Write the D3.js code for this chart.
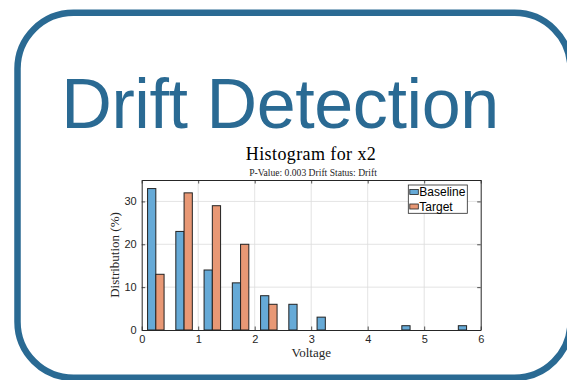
<!DOCTYPE html>
<html>
<head>
<meta charset="utf-8">
<script src="https://cdn.jsdelivr.net/npm/d3@7"></script>
<style>
  html, body { margin: 0; padding: 0; background: #ffffff; }
  svg { display: block; }
</style>
</head>
<body>
<svg id="chart" width="567" height="380"></svg>
<script>
// Histogram bins (centres, in volts) and the share of samples per bin (%)
const binCenters = [0.25, 0.75, 1.25, 1.75, 2.25, 2.75, 3.25, 3.75, 4.25, 4.75, 5.25, 5.75];
const baselineValues = [33, 23, 14, 11, 8, 6, 3, 0, 0, 1, 0, 1];
const targetValues   = [13, 32, 29, 20, 6, 0, 0, 0, 0, 0, 0, 0];
const seriesNames = ["Baseline", "Target"];
const xTicks = [0, 1, 2, 3, 4, 5, 6];
const yTicks = [0, 10, 20, 30];

const titleText = "Drift Detection";
const chartTitle = "Histogram for x2";
const subTitle = "P-Value: 0.003 Drift Status: Drift";
const xLabel = "Voltage";
const yLabel = "Distribution (%)";

const frameColor = "#2a6a93";
const colors = ["#66aad7", "#e89875"];
const serif = "'Liberation Serif', 'DejaVu Serif', serif";
const sans = "'Liberation Sans', Arial, sans-serif";

const svg = d3.select("#chart");

// Rounded card frame
svg.append("rect")
  .attr("x", 17.5).attr("y", 12.8)
  .attr("width", 553).attr("height", 365)
  .attr("rx", 56).attr("ry", 56)
  .attr("fill", "none")
  .attr("stroke", frameColor)
  .attr("stroke-width", 6.5);

// Heading
svg.append("text")
  .attr("x", 280).attr("y", 128)
  .attr("text-anchor", "middle")
  .attr("font-family", sans)
  .attr("font-size", 70)
  .attr("letter-spacing", -0.4)
  .attr("fill", frameColor)
  .text(titleText);

// Plot area
const plot = { left: 141.7, right: 480.7, top: 180, bottom: 330 };
const x = d3.scaleLinear().domain([0, 6]).range([plot.left, plot.right]);
const y = d3.scaleLinear().domain([0, 35]).range([plot.bottom, plot.top]);

const g = svg.append("g");

// Grid lines
g.append("g").selectAll("line.gx")
  .data(xTicks.slice(1, -1)).join("line")
  .attr("x1", d => x(d)).attr("x2", d => x(d))
  .attr("y1", plot.top).attr("y2", plot.bottom)
  .attr("stroke", "#dcdcdc").attr("stroke-width", 0.8);
g.append("g").selectAll("line.gy")
  .data(yTicks.slice(1)).join("line")
  .attr("x1", plot.left).attr("x2", plot.right)
  .attr("y1", d => y(d)).attr("y2", d => y(d))
  .attr("stroke", "#dcdcdc").attr("stroke-width", 0.8);

// Grouped bars
const barW = 0.146;
const series = [baselineValues, targetValues];
series.forEach((vals, si) => {
  const data = binCenters.map((c, i) => ({ c, v: vals[i] })).filter(d => d.v > 0);
  g.append("g").selectAll("rect")
    .data(data).join("rect")
    .attr("x", d => x(si === 0 ? d.c - barW : d.c))
    .attr("width", x(barW) - x(0))
    .attr("y", d => y(d.v))
    .attr("height", d => y(0) - y(d.v))
    .attr("fill", colors[si])
    .attr("stroke", "#222")
    .attr("stroke-width", 1);
});

// Axes (box with inward ticks)
const axisColor = "#262626";
const tickLen = 3.5;
const fmt = d3.format("d");
const bottomAxis = d3.axisBottom(x).tickValues(xTicks).tickFormat(fmt).tickSizeInner(-tickLen).tickSizeOuter(0).tickPadding(5);
const topAxis = d3.axisTop(x).tickValues(xTicks).tickSizeInner(-tickLen).tickSizeOuter(0).tickFormat("");
const leftAxis = d3.axisLeft(y).tickValues(yTicks).tickFormat(fmt).tickSizeInner(-tickLen).tickSizeOuter(0).tickPadding(5);
const rightAxis = d3.axisRight(y).tickValues(yTicks).tickSizeInner(-tickLen).tickSizeOuter(0).tickFormat("");

function styleAxis(sel) {
  sel.selectAll("path").attr("stroke", axisColor).attr("stroke-width", 1);
  sel.selectAll("line").attr("stroke", axisColor).attr("stroke-width", 0.8);
  sel.selectAll("text").attr("fill", "#262626").attr("font-family", sans).attr("font-size", 11);
}
svg.append("g").attr("transform", `translate(0,${plot.bottom})`).call(bottomAxis).call(styleAxis);
svg.append("g").attr("transform", `translate(0,${plot.top})`).call(topAxis).call(styleAxis);
svg.append("g").attr("transform", `translate(${plot.left},0)`).call(leftAxis).call(styleAxis);
svg.append("g").attr("transform", `translate(${plot.right},0)`).call(rightAxis).call(styleAxis);

// Chart titles
svg.append("text")
  .attr("x", 311).attr("y", 159.5)
  .attr("text-anchor", "middle")
  .attr("font-family", serif).attr("font-size", 18)
  .attr("letter-spacing", 0.4)
  .attr("fill", "#000")
  .text(chartTitle);
svg.append("text")
  .attr("x", 313).attr("y", 176)
  .attr("text-anchor", "middle")
  .attr("font-family", serif).attr("font-size", 9.6)
  .attr("fill", "#262626")
  .text(subTitle);

// Axis labels
svg.append("text")
  .attr("x", x(3)).attr("y", 357)
  .attr("text-anchor", "middle")
  .attr("font-family", serif).attr("font-size", 13)
  .attr("fill", "#262626")
  .text(xLabel);
svg.append("text")
  .attr("transform", `translate(119,${(plot.top + plot.bottom) / 2}) rotate(-90)`)
  .attr("text-anchor", "middle")
  .attr("font-family", serif).attr("font-size", 13)
  .attr("fill", "#262626")
  .text(yLabel);

// Legend
const legend = svg.append("g");
legend.append("rect")
  .attr("x", 408.3).attr("y", 185)
  .attr("width", 59).attr("height", 28.3)
  .attr("fill", "#fff")
  .attr("stroke", "#262626").attr("stroke-width", 0.8);
seriesNames.forEach((name, i) => {
  const cy = 192 + i * 14.5;
  legend.append("rect")
    .attr("x", 409.8).attr("y", cy - 2.5)
    .attr("width", 8.5).attr("height", 5)
    .attr("fill", colors[i])
    .attr("stroke", "#222").attr("stroke-width", 0.8);
  legend.append("text")
    .attr("x", 419.3).attr("y", cy)
    .attr("dy", "0.36em")
    .attr("font-family", sans).attr("font-size", 12)
    .attr("fill", "#000")
    .text(name);
});
</script>
</body>
</html>
